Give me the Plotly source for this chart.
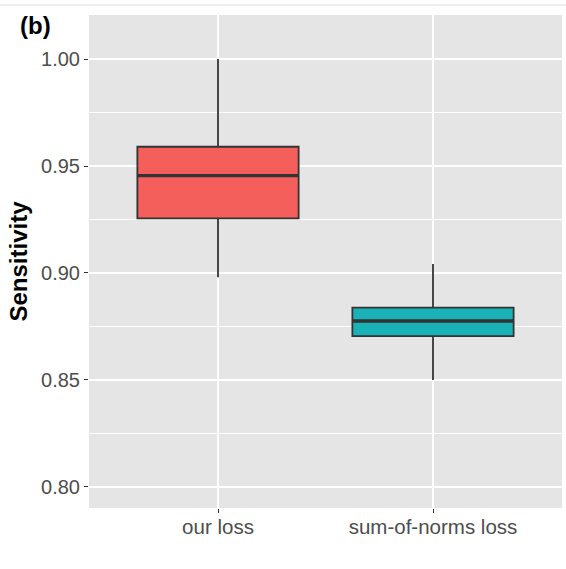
import plotly.graph_objects as go

categories = ["our loss", "sum-of-norms loss"]
lower_whisker = [0.898, 0.850]
q1 = [0.9255, 0.8705]
median = [0.9455, 0.8775]
q3 = [0.9590, 0.8838]
upper_whisker = [1.000, 0.9042]
fill_colors = ["#F45F5C", "#1AB2B6"]
y_tick_vals = [0.80, 0.85, 0.90, 0.95, 1.00]
y_tick_text = ["0.80", "0.85", "0.90", "0.95", "1.00"]

box_w = 0.75
fig = go.Figure()
for i, cat in enumerate(categories):
    xpos = i + 1
    fig.add_trace(go.Box(
        x=[xpos], q1=[q1[i]], median=[median[i]], q3=[q3[i]],
        lowerfence=[lower_whisker[i]], upperfence=[upper_whisker[i]],
        width=box_w, whiskerwidth=0,
        fillcolor=fill_colors[i], opacity=1,
        line=dict(color="#333333", width=1.8),
        boxpoints=False, showlegend=False, hoverinfo="skip",
    ))
    fig.add_trace(go.Scatter(
        x=[xpos - box_w / 2, xpos + box_w / 2], y=[median[i], median[i]],
        mode="lines", line=dict(color="#333333", width=3.4),
        showlegend=False, hoverinfo="skip",
    ))

font_family = "Liberation Sans, Arial, sans-serif"
fig.update_layout(
    width=566, height=569,
    margin=dict(l=89, r=4, t=15, b=61),
    paper_bgcolor="white", plot_bgcolor="#E5E5E5",
    font=dict(family=font_family, color="#4D4D4D"),
    xaxis=dict(
        range=[0.4, 2.6], tickvals=[1, 2], ticktext=categories,
        showgrid=True, gridcolor="white", gridwidth=2,
        zeroline=False, ticks="outside", ticklen=4, tickwidth=1.2,
        tickcolor="#333333", tickfont=dict(size=20.5, color="#4D4D4D"),
        ticklabelstandoff=-4,
        showline=False,
    ),
    yaxis=dict(
        range=[0.7901, 1.0206], tickvals=y_tick_vals, ticktext=y_tick_text,
        showgrid=True, gridcolor="white", gridwidth=2,
        zeroline=False, ticks="outside", ticklen=4, tickwidth=1.2,
        tickcolor="#333333", tickfont=dict(size=20, color="#4D4D4D"),
        minor=dict(tickvals=[0.775, 0.825, 0.875, 0.925, 0.975],
                   showgrid=True, gridcolor="white", gridwidth=1, ticks=""),
        title=dict(text="<b>Sensitivity</b>", font=dict(size=24, color="black"),
                   standoff=6),
        showline=False,
    ),
)
plot_w = 566 - 89 - 4
plot_h = 569 - 15 - 61
fig.add_annotation(text="<b>(b)</b>", x=(18 - 89) / plot_w, y=(569 - 61 - 25) / plot_h,
                   xref="paper", yref="paper", showarrow=False,
                   font=dict(size=24, color="black"),
                   xanchor="left", yanchor="middle")
fig.add_shape(type="line", xref="paper", yref="paper",
              x0=(0 - 89) / plot_w, x1=(566 - 89) / plot_w,
              y0=(569 - 61 - 5) / plot_h, y1=(569 - 61 - 5) / plot_h,
              line=dict(color="#E8E8E8", width=1.5))
fig.write_html("out.html")
